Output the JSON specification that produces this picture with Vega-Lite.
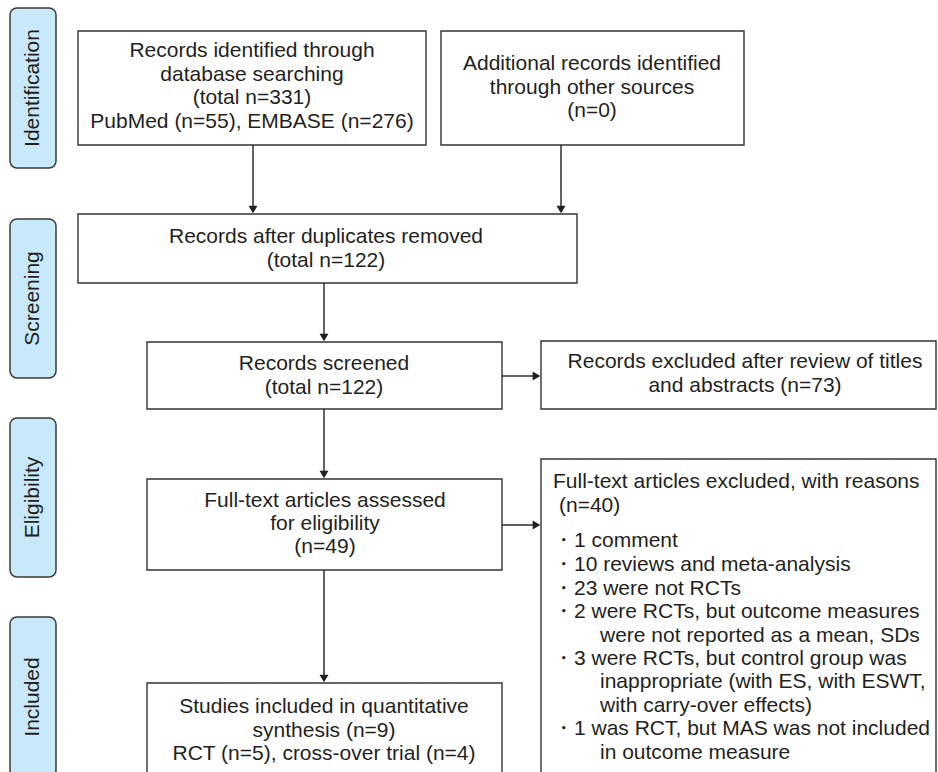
{
  "$schema": "https://vega.github.io/schema/vega-lite/v6.json",
  "width": 938,
  "height": 772,
  "padding": 0,
  "autosize": {"type": "none"},
  "background": "white",
  "config": {"view": {"stroke": null}},
  "datasets": {
    "stages": [
      {"label": "Identification", "x1": 10, "x2": 56, "y1": 8, "y2": 168, "xc": 33, "yc": 88},
      {"label": "Screening", "x1": 10, "x2": 56, "y1": 219, "y2": 378, "xc": 33, "yc": 298.5},
      {"label": "Eligibility", "x1": 10, "x2": 56, "y1": 418, "y2": 577, "xc": 33, "yc": 497.5},
      {"label": "Included", "x1": 10, "x2": 56, "y1": 617, "y2": 777, "xc": 33, "yc": 697}
    ],
    "boxes": [
      {"id": "db", "x1": 78, "x2": 426, "y1": 31, "y2": 145},
      {"id": "other", "x1": 441, "x2": 744, "y1": 31, "y2": 145},
      {"id": "dup", "x1": 78, "x2": 577, "y1": 214, "y2": 283},
      {"id": "screened", "x1": 147, "x2": 502, "y1": 342, "y2": 409},
      {"id": "excl1", "x1": 541, "x2": 936, "y1": 341, "y2": 409},
      {"id": "fulltext", "x1": 147, "x2": 502, "y1": 479, "y2": 570},
      {"id": "excl2", "x1": 541, "x2": 936, "y1": 459, "y2": 790},
      {"id": "included", "x1": 147, "x2": 502, "y1": 683, "y2": 790}
    ],
    "links": [
      {"x1": 253, "x2": 253, "y1": 145, "y2": 207},
      {"x1": 561, "x2": 561, "y1": 145, "y2": 207},
      {"x1": 324, "x2": 324, "y1": 283, "y2": 335},
      {"x1": 324, "x2": 324, "y1": 409, "y2": 472},
      {"x1": 324, "x2": 324, "y1": 570, "y2": 676},
      {"x1": 502, "x2": 534, "y1": 376, "y2": 376},
      {"x1": 502, "x2": 534, "y1": 525, "y2": 525}
    ],
    "heads": [
      {"x": 253, "y": 209.5, "shape": "triangle-down"},
      {"x": 561, "y": 209.5, "shape": "triangle-down"},
      {"x": 324, "y": 337.5, "shape": "triangle-down"},
      {"x": 324, "y": 474.5, "shape": "triangle-down"},
      {"x": 324, "y": 678.5, "shape": "triangle-down"},
      {"x": 536.5, "y": 376, "shape": "triangle-right"},
      {"x": 536.5, "y": 525, "shape": "triangle-right"}
    ],
    "lines": [
      {"a": "c", "x": 252, "y": 57, "t": "Records identified through"},
      {"a": "c", "x": 252, "y": 80.5, "t": "database searching"},
      {"a": "c", "x": 252, "y": 104, "t": "(total n=331)"},
      {"a": "c", "x": 252, "y": 127.5, "t": "PubMed (n=55), EMBASE (n=276)"},
      {"a": "c", "x": 592, "y": 70, "t": "Additional records identified"},
      {"a": "c", "x": 592, "y": 93.5, "t": "through other sources"},
      {"a": "c", "x": 592, "y": 117, "t": "(n=0)"},
      {"a": "c", "x": 326, "y": 243, "t": "Records after duplicates removed"},
      {"a": "c", "x": 326, "y": 267, "t": "(total n=122)"},
      {"a": "c", "x": 324, "y": 370, "t": "Records screened"},
      {"a": "c", "x": 324, "y": 393.5, "t": "(total n=122)"},
      {"a": "c", "x": 745, "y": 368, "t": "Records excluded after review of titles"},
      {"a": "c", "x": 745, "y": 392, "t": "and abstracts (n=73)"},
      {"a": "c", "x": 325, "y": 507, "t": "Full-text articles assessed"},
      {"a": "c", "x": 325, "y": 530, "t": "for eligibility"},
      {"a": "c", "x": 325, "y": 553, "t": "(n=49)"},
      {"a": "c", "x": 324, "y": 713, "t": "Studies included in quantitative"},
      {"a": "c", "x": 324, "y": 737, "t": "synthesis (n=9)"},
      {"a": "c", "x": 324, "y": 760, "t": "RCT (n=5), cross-over trial (n=4)"},
      {"a": "l", "x": 553, "y": 488, "t": "Full-text articles excluded, with reasons"},
      {"a": "l", "x": 559, "y": 512, "t": "(n=40)"},
      {"a": "l", "x": 553, "y": 547, "t": "・1 comment"},
      {"a": "l", "x": 553, "y": 571, "t": "・10 reviews and meta-analysis"},
      {"a": "l", "x": 553, "y": 595, "t": "・23 were not RCTs"},
      {"a": "l", "x": 553, "y": 618, "t": "・2 were RCTs, but outcome measures"},
      {"a": "l", "x": 600, "y": 642, "t": "were not reported as a mean, SDs"},
      {"a": "l", "x": 553, "y": 665, "t": "・3 were RCTs, but control group was"},
      {"a": "l", "x": 600, "y": 688, "t": "inappropriate (with ES, with ESWT,"},
      {"a": "l", "x": 600, "y": 712, "t": "with carry-over effects)"},
      {"a": "l", "x": 553, "y": 735, "t": "・1 was RCT, but MAS was not included"},
      {"a": "l", "x": 600, "y": 759, "t": "in outcome measure"}
    ]
  },
  "resolve": {"scale": {"x": "shared", "y": "shared"}},
  "layer": [
    {
      "data": {"name": "stages"},
      "mark": {"type": "rect", "fill": "#c8e9f9", "stroke": "#3a3a3a", "strokeWidth": 1.5, "cornerRadius": 7},
      "encoding": {
        "x": {"field": "x1", "type": "quantitative", "scale": {"domain": [0, 938], "nice": false, "zero": false}, "axis": null},
        "x2": {"field": "x2"},
        "y": {"field": "y1", "type": "quantitative", "scale": {"domain": [0, 772], "nice": false, "zero": false, "reverse": true}, "axis": null},
        "y2": {"field": "y2"}
      }
    },
    {
      "data": {"name": "stages"},
      "mark": {"type": "text", "angle": 270, "align": "center", "baseline": "middle", "font": "Liberation Sans", "fontSize": 21, "color": "#231f20"},
      "encoding": {
        "x": {"field": "xc", "type": "quantitative"},
        "y": {"field": "yc", "type": "quantitative"},
        "text": {"field": "label"}
      }
    },
    {
      "data": {"name": "boxes"},
      "mark": {"type": "rect", "fill": "white", "stroke": "#333333", "strokeWidth": 1.4},
      "encoding": {
        "x": {"field": "x1", "type": "quantitative"},
        "x2": {"field": "x2"},
        "y": {"field": "y1", "type": "quantitative"},
        "y2": {"field": "y2"}
      }
    },
    {
      "data": {"name": "links"},
      "mark": {"type": "rule", "stroke": "#231f20", "strokeWidth": 1.4},
      "encoding": {
        "x": {"field": "x1", "type": "quantitative"},
        "x2": {"field": "x2"},
        "y": {"field": "y1", "type": "quantitative"},
        "y2": {"field": "y2"}
      }
    },
    {
      "data": {"name": "heads"},
      "mark": {"type": "point", "filled": true, "fill": "#231f20", "opacity": 1, "size": 80, "strokeWidth": 0},
      "encoding": {
        "x": {"field": "x", "type": "quantitative"},
        "y": {"field": "y", "type": "quantitative"},
        "shape": {"field": "shape", "type": "nominal", "scale": null, "legend": null}
      }
    },
    {
      "data": {"name": "lines"},
      "transform": [{"filter": "datum.a === 'c'"}],
      "mark": {"type": "text", "align": "center", "baseline": "alphabetic", "font": "Liberation Sans", "fontSize": 21, "color": "#231f20"},
      "encoding": {
        "x": {"field": "x", "type": "quantitative"},
        "y": {"field": "y", "type": "quantitative"},
        "text": {"field": "t"}
      }
    },
    {
      "data": {"name": "lines"},
      "transform": [{"filter": "datum.a === 'l'"}],
      "mark": {"type": "text", "align": "left", "baseline": "alphabetic", "font": "Liberation Sans", "fontSize": 21, "color": "#231f20"},
      "encoding": {
        "x": {"field": "x", "type": "quantitative"},
        "y": {"field": "y", "type": "quantitative"},
        "text": {"field": "t"}
      }
    }
  ]
}
